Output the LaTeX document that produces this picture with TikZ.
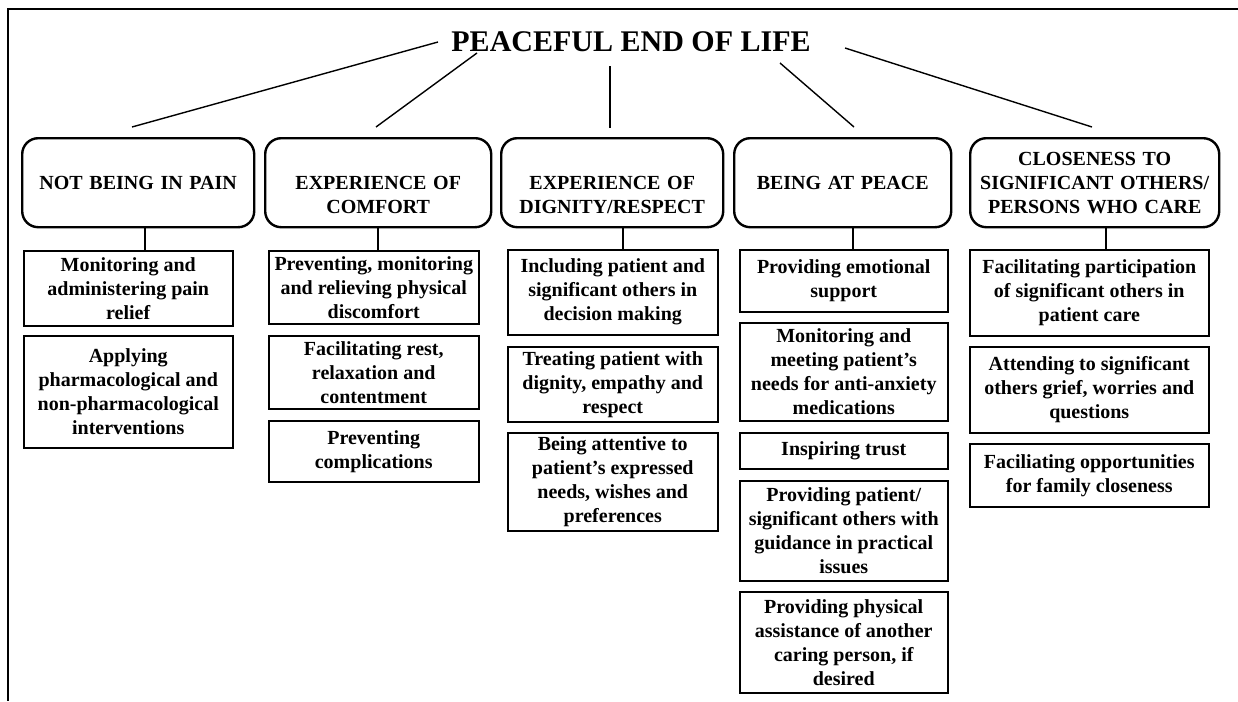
\documentclass[tikz,border=0pt]{standalone}
\usepackage{fontspec}
\setmainfont{Liberation Serif}
\begin{document}
\begin{tikzpicture}[x=1pt,y=-1pt,
  head/.style={draw, line width=2.4pt, rounded corners=16pt, inner xsep=4pt, inner ysep=0pt,
    align=center, anchor=north west, font=\bfseries\fontsize{20}{24}\selectfont},
  sub/.style={draw, line width=1.5pt, inner sep=0pt, align=center, anchor=north west,
    font=\bfseries\fontsize{20}{24}\selectfont},
  link/.style={line width=1.4pt},
  frame/.style={line width=2pt}]
\useasboundingbox (0,0) rectangle (1238,701);
% frame
\coordinate (fa) at (8,9);
\coordinate (fb) at (1238,9);
\coordinate (fc) at (8,701);
\draw[frame] (fb) -- (fa) -- (fc);
% title
\node[font=\bfseries\fontsize{30}{36}\selectfont, inner sep=0pt, anchor=base] (title) at (631,52) {PEACEFUL END OF LIFE};
% header boxes
\node[head, text width=224pt, text height=51.6pt, text depth=37.4pt] (h1) at (21,137) {NOT BEING IN PAIN};
\node[head, text width=218pt, text height=51pt, text depth=38pt] (h2) at (264,137) {EXPERIENCE OF\\COMFORT};
\node[head, text width=214pt, text height=51pt, text depth=38pt] (h3) at (500,137) {EXPERIENCE OF\\DIGNITY/RESPECT};
\node[head, text width=209pt, text height=51pt, text depth=38pt] (h4) at (733,137) {BEING AT PEACE};
\node[head, text width=241pt, text height=27pt, text depth=62pt] (h5) at (969,137) {CLOSENESS TO\\SIGNIFICANT OTHERS/\\PERSONS WHO CARE};
% title connectors
\coordinate (t1) at (438,42);  \coordinate (b1) at (132,127);
\coordinate (t2) at (477,53);  \coordinate (b2) at (376,127);
\coordinate (t3) at (610,66);  \coordinate (b3) at (610,128);
\coordinate (t4) at (780,63);  \coordinate (b4) at (854,127);
\coordinate (t5) at (845,48);  \coordinate (b5) at (1092,127);
\foreach \i in {1,...,5} {\draw[link] (t\i) -- (b\i);}
% column 1
\node[sub, minimum width=209pt, minimum height=75pt] (s11) at (23,250) {Monitoring and\\administering pain\\relief};
\node[sub, minimum width=209pt, minimum height=112pt] (s12) at (23,335) {Applying\\pharmacological and\\non-pharmacological\\interventions};
% column 2
\node[sub, minimum width=210pt, minimum height=73pt] (s21) at (268,250) {Preventing, monitoring\\and relieving physical\\discomfort};
\node[sub, minimum width=210pt, minimum height=73pt] (s22) at (268,335) {Facilitating rest,\\relaxation and\\contentment};
\node[sub, minimum width=210pt, minimum height=61pt] (s23) at (268,420) {Preventing\\complications};
% column 3
\node[sub, minimum width=210pt, minimum height=85pt] (s31) at (507,249) {Including patient and\\significant others in\\decision making};
\node[sub, minimum width=210pt, minimum height=75pt] (s32) at (507,346) {Treating patient with\\dignity, empathy and\\respect};
\node[sub, minimum width=210pt, minimum height=98pt] (s33) at (507,432) {Being attentive to\\patient’s expressed\\needs, wishes and\\preferences};
% column 4
\node[sub, minimum width=208pt, minimum height=62pt] (s41) at (739,249) {Providing emotional\\support};
\node[sub, minimum width=208pt, minimum height=98pt] (s42) at (739,322) {Monitoring and\\meeting patient’s\\needs for anti-anxiety\\medications};
\node[sub, minimum width=208pt, minimum height=36pt] (s43) at (739,432) {Inspiring trust};
\node[sub, minimum width=208pt, minimum height=100pt] (s44) at (739,480) {Providing patient/\\significant others with\\guidance in practical\\issues};
\node[sub, minimum width=208pt, minimum height=101pt] (s45) at (739,591) {Providing physical\\assistance of another\\caring person, if\\desired};
% column 5
\node[sub, minimum width=239pt, minimum height=86pt] (s51) at (969,249) {Facilitating participation\\of significant others in\\patient care};
\node[sub, minimum width=239pt, minimum height=86pt] (s52) at (969,346) {Attending to significant\\others grief, worries and\\questions};
\node[sub, minimum width=239pt, minimum height=63pt] (s53) at (969,443) {Faciliating opportunities\\for family closeness};
% header to sub connectors
\coordinate (x1) at (145,0);
\coordinate (x2) at (378,0);
\coordinate (x3) at (623,0);
\coordinate (x4) at (853,0);
\coordinate (x5) at (1106,0);
\draw[link] (h1.south -| x1) -- (s11.north -| x1);
\draw[link] (h2.south -| x2) -- (s21.north -| x2);
\draw[link] (h3.south -| x3) -- (s31.north -| x3);
\draw[link] (h4.south -| x4) -- (s41.north -| x4);
\draw[link] (h5.south -| x5) -- (s51.north -| x5);
\end{tikzpicture}
\end{document}
